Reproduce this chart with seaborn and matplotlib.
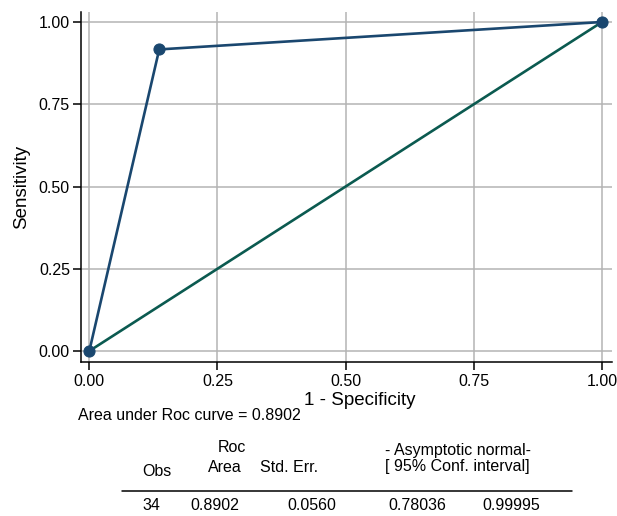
import matplotlib
matplotlib.use("Agg")
import matplotlib.pyplot as plt
import seaborn as sns
import pandas as pd

# ROC points (1 - specificity, sensitivity)
fpr = [0.0, 3 / 22, 1.0]
tpr = [0.0, 11 / 12, 1.0]
ref_x = [0.0, 1.0]
ref_y = [0.0, 1.0]
ticks = [0.0, 0.25, 0.5, 0.75, 1.0]

# summary table
obs = 34
auc = 0.8902
std_err = 0.0560
ci_low = 0.78036
ci_high = 0.99995

roc = pd.DataFrame({"fpr": fpr, "tpr": tpr})
ref = pd.DataFrame({"x": ref_x, "y": ref_y})

sns.set_style("white")
plt.rcParams["font.family"] = ["Liberation Sans", "DejaVu Sans"]
plt.rcParams["text.color"] = "black"
plt.rcParams["axes.labelcolor"] = "black"
plt.rcParams["xtick.color"] = "black"
plt.rcParams["ytick.color"] = "black"

fig = plt.figure(figsize=(6.17, 5.16), dpi=100)
ax = fig.add_axes([81 / 617, 1 - 361.5 / 516, 531 / 617, 349.5 / 516])

navy = "#1a476f"
teal = "#0b5a50"

sns.lineplot(data=ref, x="x", y="y", color=teal, lw=1.9, ax=ax, zorder=3)
sns.lineplot(data=roc, x="fpr", y="tpr", color=navy, lw=1.9, marker="o",
             markersize=8, markeredgecolor=navy, ax=ax, zorder=4, sort=False)

ax.set_xlim(-0.0162, 1.0195)
ax.set_ylim(-0.0319, 1.0304)
ax.set_xticks(ticks)
ax.set_yticks(ticks)
ax.set_xticklabels([f"{t:.2f}" for t in ticks], fontsize=11.5)
ax.set_yticklabels([f"{t:.2f}" for t in ticks], fontsize=11.5)
ax.grid(True, color="#b4b4b4", lw=1.1)
ax.set_axisbelow(True)
for s in ["top", "right"]:
    ax.spines[s].set_visible(False)
for s in ["left", "bottom"]:
    ax.spines[s].set_color("black")
    ax.spines[s].set_linewidth(1.1)
ax.tick_params(axis="both", which="both", direction="out", length=6, width=1.1,
               color="black", labelcolor="black", bottom=True, left=True)
ax.tick_params(axis="x", pad=3)
ax.tick_params(axis="y", pad=2)
ax.set_xlabel("1 - Specificity", fontsize=13.5)
ax.xaxis.set_label_coords(0.5245, -0.086)
ax.set_ylabel("Sensitivity", fontsize=13.5, labelpad=6)

# text below the plot, in pixel coords of the figure
def put(x, y, s, ha="left"):
    fig.text(x / 617, 1 - y / 516, s, ha=ha, va="center", fontsize=11.5, color="black")

put(78, 415, f"Area under Roc curve = {auc:.4f}")
put(232, 448, "Roc", ha="center")
put(157, 471, "Obs", ha="center")
put(225, 467, "Area", ha="center")
put(289, 467, "Std. Err.", ha="center")
put(385, 450, "- Asymptotic normal-")
put(385, 467, "[ 95% Conf. interval]")
fig.add_artist(plt.Line2D([122 / 617, 572 / 617], [1 - 491 / 516] * 2, color="black", lw=1.1))
put(151, 506, f"{obs}", ha="center")
put(215, 506, f"{auc:.4f}", ha="center")
put(312, 506, f"{std_err:.4f}", ha="center")
put(417, 506, f"{ci_low:.5f}", ha="center")
put(511, 506, f"{ci_high:.5f}", ha="center")

fig.savefig("out.png", dpi=100)
